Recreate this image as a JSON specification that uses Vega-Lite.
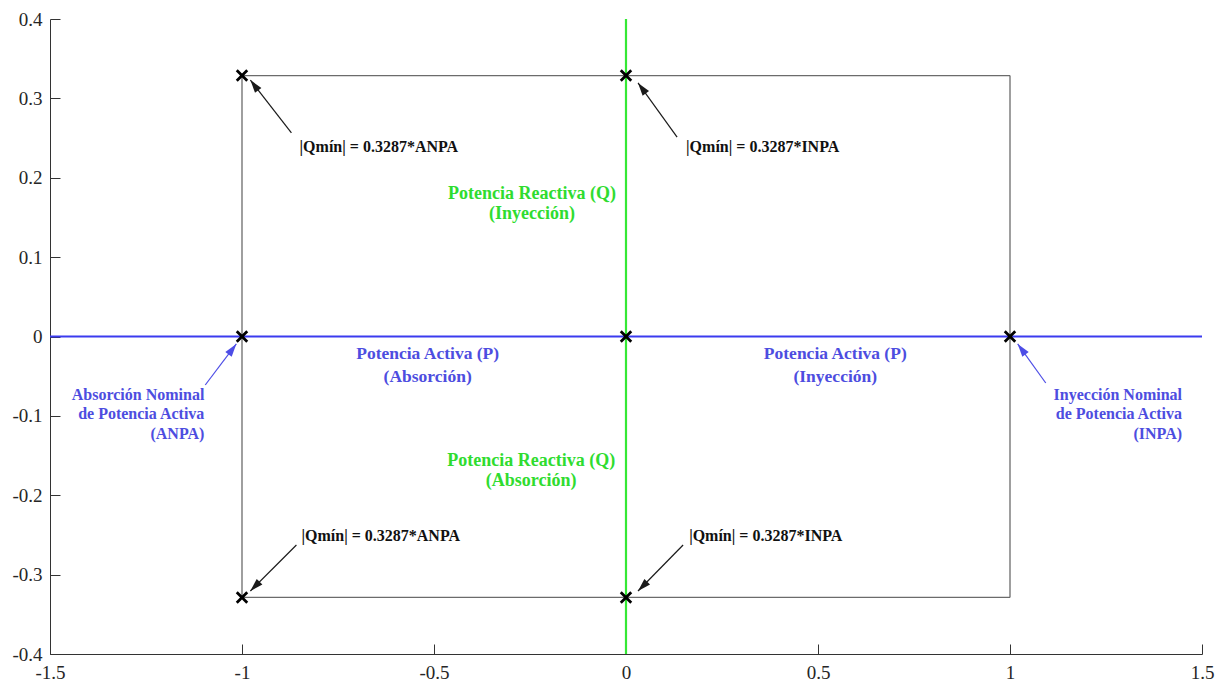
{
  "$schema": "https://vega.github.io/schema/vega-lite/v6.json",
  "width": 1152,
  "height": 635,
  "autosize": {"type": "none"},
  "padding": {"left": 50, "top": 19, "right": 23, "bottom": 31},
  "background": "white",
  "config": {
    "view": {"stroke": null},
    "axis": {
      "grid": false,
      "title": null,
      "domainColor": "#333333",
      "domainWidth": 1,
      "tickColor": "#333333",
      "tickWidth": 1,
      "tickSize": -10,
      "labelFont": "Liberation Serif",
      "labelFontSize": 19,
      "labelColor": "#262626",
      "labelFlush": false,
      "labelOverlap": false,
      "labelExpr": "'' + datum.value"
    }
  },
  "datasets": {
    "lines": [
      {"x": -1, "y": 0.3287, "x2": 1, "y2": 0.3287, "kind": "box"},
      {"x": 1, "y": 0.3287, "x2": 1, "y2": -0.3287, "kind": "box"},
      {"x": 1, "y": -0.3287, "x2": -1, "y2": -0.3287, "kind": "box"},
      {"x": -1, "y": -0.3287, "x2": -1, "y2": 0.3287, "kind": "box"},
      {"x": 0, "y": -0.4, "x2": 0, "y2": 0.4, "kind": "q_axis"},
      {"x": -1.5, "y": 0, "x2": 1.5, "y2": 0, "kind": "p_axis"}
    ],
    "markers": [
      {"p": -1, "q": 0.3287},
      {"p": 0, "q": 0.3287},
      {"p": -1, "q": 0},
      {"p": 0, "q": 0},
      {"p": 1, "q": 0},
      {"p": -1, "q": -0.3287},
      {"p": 0, "q": -0.3287}
    ],
    "arrows": [
      {"x": -0.8713, "y": 0.2564, "hx": -0.9782, "hy": 0.3231, "tone": "note", "dir": "up-left"},
      {"x": 0.1331, "y": 0.2513, "hx": 0.0313, "hy": 0.3194, "tone": "note", "dir": "up-left"},
      {"x": -0.8583, "y": -0.2627, "hx": -0.9782, "hy": -0.3206, "tone": "note", "dir": "down-left"},
      {"x": 0.1487, "y": -0.2627, "hx": 0.0313, "hy": -0.3206, "tone": "note", "dir": "down-left"},
      {"x": -1.0957, "y": -0.0611, "hx": -1.0148, "hy": -0.0094, "tone": "nominal", "dir": "up-right"},
      {"x": 1.0931, "y": -0.0586, "hx": 1.02, "hy": -0.0094, "tone": "nominal", "dir": "up-left"}
    ],
    "labels": [
      {"x": -0.85, "y": 0.2387, "text": "|Qmín| = 0.3287*ANPA", "group": "note"},
      {"x": 0.1565, "y": 0.2387, "text": "|Qmín| = 0.3287*INPA", "group": "note"},
      {"x": -0.845, "y": -0.2513, "text": "|Qmín| = 0.3287*ANPA", "group": "note"},
      {"x": 0.1644, "y": -0.2513, "text": "|Qmín| = 0.3287*INPA", "group": "note"},
      {"x": -0.5165, "y": -0.022, "text": "Potencia Activa (P)", "group": "p_axis"},
      {"x": -0.5165, "y": -0.051, "text": "(Absorción)", "group": "p_axis"},
      {"x": 0.545, "y": -0.022, "text": "Potencia Activa (P)", "group": "p_axis"},
      {"x": 0.545, "y": -0.051, "text": "(Inyección)", "group": "p_axis"},
      {"x": -0.245, "y": 0.1795, "text": "Potencia Reactiva (Q)", "group": "q_axis"},
      {"x": -0.245, "y": 0.1543, "text": "(Inyección)", "group": "q_axis"},
      {"x": -0.247, "y": -0.1569, "text": "Potencia Reactiva (Q)", "group": "q_axis"},
      {"x": -0.247, "y": -0.182, "text": "(Absorción)", "group": "q_axis"},
      {"x": -1.098, "y": -0.0737, "text": "Absorción Nominal", "group": "nominal"},
      {"x": -1.098, "y": -0.0976, "text": "de Potencia Activa", "group": "nominal"},
      {"x": -1.098, "y": -0.1228, "text": "(ANPA)", "group": "nominal"},
      {"x": 1.448, "y": -0.0737, "text": "Inyección Nominal", "group": "nominal"},
      {"x": 1.448, "y": -0.0976, "text": "de Potencia Activa", "group": "nominal"},
      {"x": 1.448, "y": -0.1228, "text": "(INPA)", "group": "nominal"}
    ]
  },
  "layer": [
    {
      "data": {"name": "lines"},
      "transform": [{"filter": "datum.kind === 'box'"}],
      "mark": {"type": "rule", "color": "#6b6b6b", "strokeWidth": 1.3},
      "encoding": {
        "x": {
          "field": "x", "type": "quantitative",
          "scale": {"domain": [-1.5, 1.5], "nice": false, "zero": false},
          "axis": {"values": [-1.5, -1, -0.5, 0, 0.5, 1, 1.5], "labelPadding": 19, "labelFont": "Liberation Serif", "labelFontSize": 19}
        },
        "y": {
          "field": "y", "type": "quantitative",
          "scale": {"domain": [-0.4, 0.4], "nice": false, "zero": false},
          "axis": {"values": [-0.4, -0.3, -0.2, -0.1, 0, 0.1, 0.2, 0.3, 0.4], "labelPadding": 18, "labelFont": "Liberation Serif", "labelFontSize": 19}
        },
        "x2": {"field": "x2"},
        "y2": {"field": "y2"}
      }
    },
    {
      "data": {"name": "lines"},
      "transform": [{"filter": "datum.kind === 'q_axis'"}],
      "mark": {"type": "rule", "color": "#35e835", "strokeWidth": 2.2},
      "encoding": {
        "x": {"field": "x", "type": "quantitative"},
        "y": {"field": "y", "type": "quantitative"},
        "x2": {"field": "x2"},
        "y2": {"field": "y2"}
      }
    },
    {
      "data": {"name": "lines"},
      "transform": [{"filter": "datum.kind === 'p_axis'"}],
      "mark": {"type": "rule", "color": "#3b3bef", "strokeWidth": 2.2},
      "encoding": {
        "x": {"field": "x", "type": "quantitative"},
        "y": {"field": "y", "type": "quantitative"},
        "x2": {"field": "x2"},
        "y2": {"field": "y2"}
      }
    },
    {
      "data": {"name": "arrows"},
      "mark": {"type": "rule", "strokeWidth": 1.2},
      "encoding": {
        "x": {"field": "x", "type": "quantitative"},
        "y": {"field": "y", "type": "quantitative"},
        "x2": {"field": "hx"},
        "y2": {"field": "hy"},
        "color": {"field": "tone", "type": "nominal", "scale": {"domain": ["note", "nominal"], "range": ["#1a1a1a", "#4d4de6"]}, "legend": null}
      }
    },
    {
      "data": {"name": "arrows"},
      "transform": [{"filter": "datum.dir === 'up-left'"}],
      "mark": {"type": "point", "shape": "M0,0L0.4,1.3L-0.4,1.3Z", "filled": true, "opacity": 1, "size": 400, "angle": 323, "strokeWidth": 0},
      "encoding": {
        "x": {"field": "hx", "type": "quantitative"},
        "y": {"field": "hy", "type": "quantitative"},
        "color": {"field": "tone", "type": "nominal", "scale": {"domain": ["note", "nominal"], "range": ["#1a1a1a", "#4d4de6"]}, "legend": null}
      }
    },
    {
      "data": {"name": "arrows"},
      "transform": [{"filter": "datum.dir === 'down-left'"}],
      "mark": {"type": "point", "shape": "M0,0L0.4,1.3L-0.4,1.3Z", "filled": true, "opacity": 1, "size": 400, "angle": 225, "strokeWidth": 0},
      "encoding": {
        "x": {"field": "hx", "type": "quantitative"},
        "y": {"field": "hy", "type": "quantitative"},
        "color": {"field": "tone", "type": "nominal", "scale": {"domain": ["note", "nominal"], "range": ["#1a1a1a", "#4d4de6"]}, "legend": null}
      }
    },
    {
      "data": {"name": "arrows"},
      "transform": [{"filter": "datum.dir === 'up-right'"}],
      "mark": {"type": "point", "shape": "M0,0L0.4,1.3L-0.4,1.3Z", "filled": true, "opacity": 1, "size": 400, "angle": 37, "strokeWidth": 0},
      "encoding": {
        "x": {"field": "hx", "type": "quantitative"},
        "y": {"field": "hy", "type": "quantitative"},
        "color": {"field": "tone", "type": "nominal", "scale": {"domain": ["note", "nominal"], "range": ["#1a1a1a", "#4d4de6"]}, "legend": null}
      }
    },
    {
      "data": {"name": "markers"},
      "mark": {"type": "point", "shape": "M-1,-1L1,1M-1,1L1,-1", "filled": false, "opacity": 1, "size": 110, "stroke": "#000000", "strokeWidth": 2.8},
      "encoding": {
        "x": {"field": "p", "type": "quantitative"},
        "y": {"field": "q", "type": "quantitative"}
      }
    },
    {
      "data": {"name": "labels"},
      "transform": [{"filter": "datum.group === 'note'"}],
      "mark": {"type": "text", "align": "left", "baseline": "middle", "font": "Liberation Serif", "fontWeight": "bold", "fontSize": 16, "color": "#111111"},
      "encoding": {
        "x": {"field": "x", "type": "quantitative"},
        "y": {"field": "y", "type": "quantitative"},
        "text": {"field": "text"}
      }
    },
    {
      "data": {"name": "labels"},
      "transform": [{"filter": "datum.group === 'p_axis'"}],
      "mark": {"type": "text", "align": "center", "baseline": "middle", "font": "Liberation Serif", "fontWeight": "bold", "fontSize": 17.5, "color": "#4d4de0"},
      "encoding": {
        "x": {"field": "x", "type": "quantitative"},
        "y": {"field": "y", "type": "quantitative"},
        "text": {"field": "text"}
      }
    },
    {
      "data": {"name": "labels"},
      "transform": [{"filter": "datum.group === 'q_axis'"}],
      "mark": {"type": "text", "align": "center", "baseline": "middle", "font": "Liberation Serif", "fontWeight": "bold", "fontSize": 18, "color": "#2fdc2f"},
      "encoding": {
        "x": {"field": "x", "type": "quantitative"},
        "y": {"field": "y", "type": "quantitative"},
        "text": {"field": "text"}
      }
    },
    {
      "data": {"name": "labels"},
      "transform": [{"filter": "datum.group === 'nominal'"}],
      "mark": {"type": "text", "align": "right", "baseline": "middle", "font": "Liberation Serif", "fontWeight": "bold", "fontSize": 16, "color": "#4d4de0"},
      "encoding": {
        "x": {"field": "x", "type": "quantitative"},
        "y": {"field": "y", "type": "quantitative"},
        "text": {"field": "text"}
      }
    }
  ]
}
